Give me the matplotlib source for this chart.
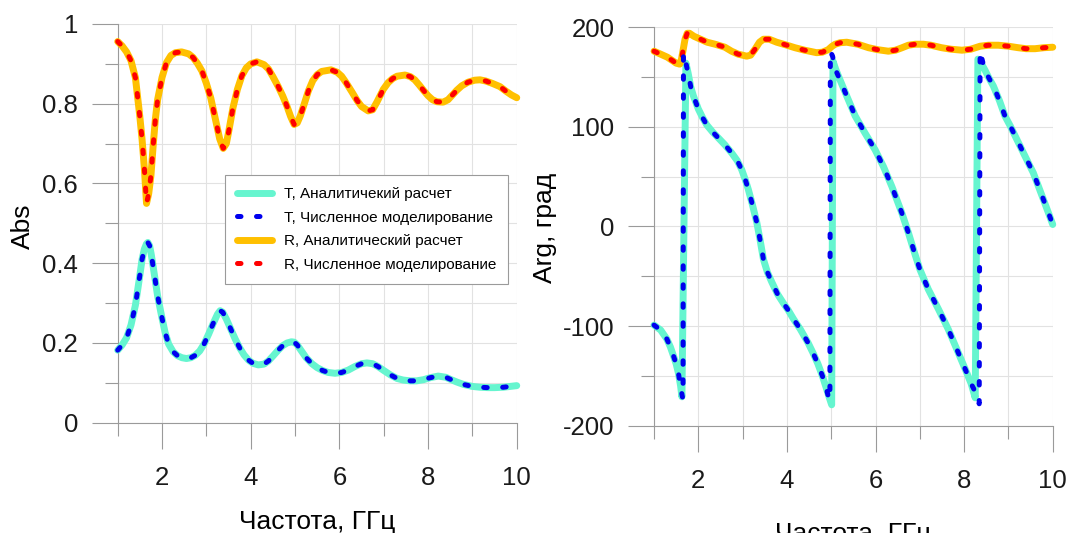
import matplotlib

matplotlib.use("Agg")
import matplotlib.pyplot as plt
from matplotlib.ticker import FixedLocator, FuncFormatter

plt.rcParams["font.family"] = ["Liberation Sans", "DejaVu Sans"]
plt.rcParams["axes.unicode_minus"] = False

# |T| and |R| versus frequency, GHz
abs_t_freq = [1.0, 1.1, 1.2, 1.3, 1.4, 1.5, 1.55, 1.6, 1.65, 1.68, 1.72, 1.76, 1.8, 1.85,
              1.9, 2.0, 2.07, 2.15, 2.25, 2.35, 2.45, 2.55, 2.65, 2.75, 2.85, 2.95, 3.05,
              3.15, 3.25, 3.31, 3.37, 3.45, 3.55, 3.65, 3.75, 3.85, 3.95, 4.05, 4.17, 4.3,
              4.4, 4.5, 4.62, 4.72, 4.82, 4.92, 4.98, 5.05, 5.15, 5.25, 5.38, 5.5, 5.62,
              5.75, 5.9, 6.05, 6.2, 6.35, 6.5, 6.62, 6.75, 6.87, 7.0, 7.15, 7.3, 7.44,
              7.6, 7.74, 7.9, 8.05, 8.23, 8.4, 8.52, 8.65, 8.8, 9.0, 9.17, 9.35, 9.5,
              9.7, 9.85, 10.0]
abs_t = [0.182, 0.195, 0.213, 0.245, 0.295, 0.37, 0.41, 0.435, 0.449, 0.452, 0.444, 0.42,
         0.391, 0.355, 0.318, 0.262, 0.226, 0.197, 0.178, 0.168, 0.163, 0.161, 0.163, 0.169,
         0.18, 0.198, 0.222, 0.248, 0.272, 0.281, 0.277, 0.26, 0.235, 0.21, 0.188, 0.17,
         0.157, 0.149, 0.145, 0.147, 0.155, 0.167, 0.182, 0.193, 0.2, 0.203, 0.202, 0.195,
         0.179, 0.163, 0.148, 0.138, 0.131, 0.126, 0.124, 0.126, 0.132, 0.141, 0.148,
         0.15, 0.148, 0.141, 0.131, 0.12, 0.111, 0.107, 0.105, 0.105, 0.108, 0.113, 0.117,
         0.114, 0.108, 0.102, 0.096, 0.091, 0.089, 0.088, 0.088, 0.089, 0.091, 0.093]

abs_r_freq = [1.0, 1.1, 1.2, 1.3, 1.4, 1.5, 1.55, 1.6, 1.65, 1.7, 1.75, 1.8, 1.85, 1.9,
              2.0, 2.1, 2.2, 2.3, 2.44, 2.6, 2.7, 2.8, 2.9, 3.0, 3.1, 3.2, 3.3, 3.38, 3.45,
              3.5, 3.6, 3.7, 3.8, 3.9, 4.0, 4.14, 4.3, 4.4, 4.5, 4.62, 4.72, 4.82, 4.9,
              4.98, 5.05, 5.12, 5.2, 5.3, 5.4, 5.5, 5.6, 5.81, 5.95, 6.05, 6.15, 6.28,
              6.4, 6.5, 6.65, 6.75, 6.85, 6.99, 7.1, 7.2, 7.3, 7.48, 7.6, 7.7, 7.8, 7.9,
              8.0, 8.1, 8.2, 8.34, 8.45, 8.55, 8.65, 8.76, 8.9, 9.05, 9.17, 9.3, 9.45,
              9.62, 9.75, 9.88, 10.0]
abs_r = [0.956, 0.945, 0.93, 0.908, 0.865, 0.767, 0.71, 0.64, 0.55, 0.575, 0.62, 0.695,
         0.762, 0.81, 0.866, 0.903, 0.921, 0.928, 0.93, 0.925, 0.916, 0.901, 0.882, 0.851,
         0.814, 0.763, 0.712, 0.688, 0.7, 0.728, 0.79, 0.836, 0.87, 0.89, 0.9, 0.905, 0.898,
         0.887, 0.868, 0.843, 0.82, 0.793, 0.768, 0.748, 0.752, 0.77, 0.797, 0.832, 0.858,
         0.873, 0.881, 0.885, 0.879, 0.869, 0.853, 0.83, 0.808, 0.793, 0.782, 0.785, 0.805,
         0.836, 0.853, 0.863, 0.869, 0.872, 0.868, 0.86, 0.847, 0.833, 0.82, 0.81, 0.805,
         0.804, 0.81, 0.822, 0.834, 0.845, 0.854, 0.859, 0.86, 0.857, 0.851, 0.843, 0.832,
         0.822, 0.815]

# arg R, degrees
arg_r_freq = [1.0, 1.1, 1.2, 1.3, 1.4, 1.5, 1.58, 1.62, 1.66, 1.7, 1.75, 1.8, 1.9, 2.0,
              2.2, 2.38, 2.6, 2.75, 2.9, 3.0, 3.09, 3.18, 3.28, 3.38, 3.47, 3.6, 3.77,
              4.0, 4.18, 4.4, 4.67, 4.8, 4.93, 5.02, 5.09, 5.2, 5.35, 5.6, 5.84, 6.05,
              6.29, 6.45, 6.6, 6.74, 6.9, 7.08, 7.25, 7.49, 7.7, 7.95, 8.15, 8.36, 8.55,
              8.77, 9.0, 9.22, 9.4, 9.6, 9.8, 10.0]
arg_r = [176, 174, 172, 170, 167, 164, 163, 168, 178, 188, 194, 194, 191, 189, 185, 183,
         180, 176, 173, 172, 171, 172, 178, 185, 188, 188, 185, 182, 179.5, 177, 174.5,
         175, 177.5, 181, 183, 184.5, 185, 183, 179.5, 177.5, 176, 177, 179.5, 182, 183,
         183, 182, 179.5, 178, 177, 178, 181, 182, 182, 181, 179.5, 178.5, 178.5, 179.5,
         180]

# arg T, degrees: analytic and numeric differ slightly at the phase jumps
arg_t_an_freq = [1.0, 1.15, 1.29, 1.37, 1.44, 1.5, 1.55, 1.6, 1.63, 1.72, 1.77, 1.83,
                 1.89, 2.0, 2.1, 2.19, 2.32, 2.45, 2.6, 2.75, 2.88, 2.98, 3.06, 3.13, 3.22,
                 3.32, 3.4, 3.47, 3.56, 3.66, 3.79, 3.92, 4.03, 4.15, 4.3, 4.48, 4.6, 4.7,
                 4.8, 4.88, 4.95, 5.01, 5.04, 5.1, 5.2, 5.35, 5.54, 5.76, 5.99, 6.18, 6.37,
                 6.59, 6.74, 6.87, 7.0, 7.19, 7.42, 7.64, 7.87, 8.06, 8.16, 8.25, 8.31,
                 8.36, 8.42, 8.47, 8.56, 8.66, 8.8, 8.92, 9.04, 9.15, 9.26, 9.37, 9.47,
                 9.56, 9.68, 9.79, 9.9, 10.0]
arg_t_an = [-99, -104, -113, -121, -130, -138, -147, -160, -171, 164, 154, 140, 131, 118,
            109, 102, 95, 89, 82, 74, 66, 57, 47, 37, 22, 4, -15, -33, -46, -56, -68, -77,
            -84, -93, -103, -117, -128, -138, -150, -161, -171, -179, 166, 158, 147, 131,
            111, 94, 77, 60, 40, 14, -6, -25, -43, -63, -83, -103, -127, -147, -158, -172,
            168, 166, 161, 157, 149, 141, 126, 111, 101, 91, 81, 71, 62, 54, 40, 27, 14, 2]

arg_t_num_freq = [1.0, 1.15, 1.29, 1.37, 1.44, 1.5, 1.55, 1.6, 1.64, 1.655, 1.665, 1.7,
                  1.77, 1.83, 1.89, 2.0, 2.1, 2.19, 2.32, 2.45, 2.6, 2.75, 2.88, 2.98,
                  3.06, 3.13, 3.22, 3.32, 3.4, 3.47, 3.56, 3.66, 3.79, 3.92, 4.03, 4.15,
                  4.3, 4.48, 4.6, 4.7, 4.8, 4.88, 4.93, 4.97, 4.98, 5.03, 5.1, 5.2, 5.35,
                  5.54, 5.76, 5.99, 6.18, 6.37, 6.59, 6.74, 6.87, 7.0, 7.19, 7.42, 7.64,
                  7.87, 8.06, 8.16, 8.25, 8.3, 8.34, 8.36, 8.42, 8.47, 8.56, 8.66, 8.8,
                  8.92, 9.04, 9.15, 9.26, 9.37, 9.47, 9.56, 9.68, 9.79, 9.9, 10.0]
arg_t_num = [-99, -104, -113, -121, -130, -138, -147, -161, -171, -172, 174, 168, 154,
             140, 131, 118, 109, 102, 95, 89, 82, 74, 66, 57, 47, 37, 22, 4, -15, -33,
             -46, -56, -68, -77, -84, -93, -103, -117, -128, -138, -150, -161, -170, -174,
             176, 171, 157, 147, 131, 111, 94, 77, 60, 40, 14, -6, -25, -43, -63, -83,
             -103, -127, -147, -158, -166, -172, -178, 176, 165, 157, 149, 141, 126, 111,
             101, 91, 81, 71, 62, 54, 40, 27, 14, 2]

legend_labels = ["T, Аналитичекий расчет", "T, Численное моделирование",
                 "R, Аналитический расчет", "R, Численное моделирование"]

CYAN = "#66F5CF"
BLUE = "#0000EE"
GOLD = "#FFC000"
RED = "#FF0000"
GRAY = "#9A9A9A"

solid = dict(linewidth=5.0, solid_capstyle="round", solid_joinstyle="round", clip_on=False)
dotted = dict(linewidth=3.6, dashes=(0.7, 3.1), dash_capstyle="round", clip_on=False)


def style_axes(ax, xlim, ylim, yticks, yminor, fmt):
    ax.set_xlim(*xlim)
    ax.set_ylim(*ylim)
    ax.xaxis.set_major_locator(FixedLocator([2, 4, 6, 8, 10]))
    ax.xaxis.set_minor_locator(FixedLocator([1, 3, 5, 7, 9]))
    ax.yaxis.set_major_locator(FixedLocator(yticks))
    ax.yaxis.set_minor_locator(FixedLocator(yminor))
    ax.yaxis.set_major_formatter(FuncFormatter(fmt))
    ax.grid(which="both", color="#E2E2E2", linewidth=0.8)
    ax.set_axisbelow(True)
    for side in ("top", "right"):
        ax.spines[side].set_visible(False)
    for side in ("left", "bottom"):
        ax.spines[side].set_color(GRAY)
        ax.spines[side].set_linewidth(0.8)
    ax.tick_params(which="major", length=19, width=0.8, color=GRAY, labelsize=18.5,
                   labelcolor="#1A1A1A")
    ax.tick_params(which="minor", length=9.3, width=0.8, color=GRAY)
    ax.tick_params(axis="x", which="major", pad=12)
    ax.tick_params(axis="y", which="major", pad=9.5)


fig = plt.figure(figsize=(10.69, 5.33), dpi=100)
ax_abs = fig.add_axes([0.1101, 0.2069, 0.3733, 0.7481])
ax_arg = fig.add_axes([0.6118, 0.2013, 0.3730, 0.7475])

h1, = ax_abs.plot(abs_t_freq, abs_t, color=CYAN, zorder=3, **solid)
h3, = ax_abs.plot(abs_r_freq, abs_r, color=GOLD, zorder=3, **solid)
h2, = ax_abs.plot(abs_t_freq, abs_t, color=BLUE, zorder=4, **dotted)
h4, = ax_abs.plot(abs_r_freq, abs_r, color=RED, zorder=4, **dotted)

ax_arg.plot(arg_t_an_freq, arg_t_an, color=CYAN, zorder=3, **solid)
ax_arg.plot(arg_r_freq, arg_r, color=GOLD, zorder=3, **solid)
ax_arg.plot(arg_r_freq, arg_r, color=RED, zorder=4, **dotted)
ax_arg.plot(arg_t_num_freq, arg_t_num, color=BLUE, zorder=5, **dotted)

style_axes(ax_abs, (1, 10), (0, 1), [0, 0.2, 0.4, 0.6, 0.8, 1.0],
           [0.1, 0.3, 0.5, 0.7, 0.9], lambda v, _: f"{v:g}")
style_axes(ax_arg, (1, 10), (-200, 200), [-200, -100, 0, 100, 200],
           [-150, -50, 50, 150], lambda v, _: f"{v:g}")

leg = ax_abs.legend([h1, h2, h3, h4], legend_labels, loc="upper left",
                    bbox_to_anchor=(0.269, 0.621), borderaxespad=0, fontsize=11,
                    handlelength=2.3, handletextpad=0.75, labelspacing=0.62,
                    borderpad=0.8, fancybox=False, framealpha=1, edgecolor=GRAY)
leg.get_frame().set_linewidth(0.8)
leg.set_zorder(6)

fig.text(0.2967, 1 - 529 / 533, "Частота, ГГц", fontsize=19, ha="center",
         va="baseline")
fig.text(0.7983, 1 - 541 / 533, "Частота, ГГц", fontsize=19, ha="center",
         va="baseline")
fig.text(23 / 1069, 1 - 226 / 533, "Abs", fontsize=19, rotation=90, ha="center",
         va="center")
fig.text(545 / 1069, 1 - 228 / 533, "Arg, град", fontsize=19, rotation=90,
         ha="center", va="center")

fig.savefig("out.png", dpi=100)
plt.close(fig)
